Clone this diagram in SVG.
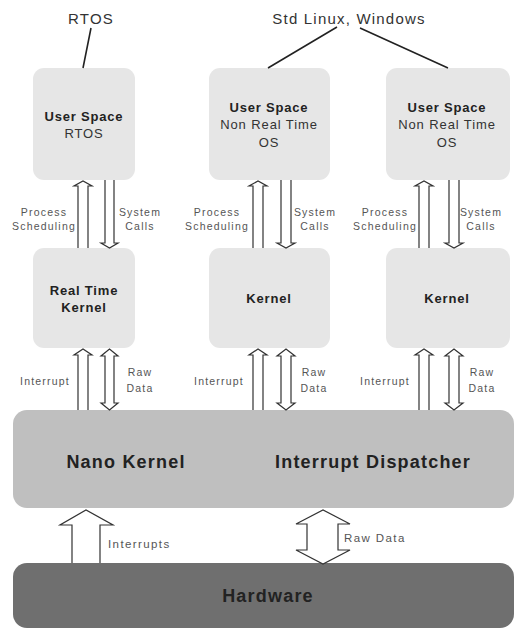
<svg xmlns="http://www.w3.org/2000/svg" width="515" height="630" viewBox="0 0 515 630">
<style>
text{font-family:"Liberation Sans",Arial,sans-serif;text-anchor:middle}
.box{fill:#e6e6e6}
.nano{fill:#bfbfbf}
.hw{fill:#6f6f6f}
.t{font-size:15px;fill:#333;letter-spacing:1.2px}
.b{font-size:13px;font-weight:bold;fill:#222;letter-spacing:0.8px}
.r{font-size:13px;fill:#333;letter-spacing:0.9px}
.s{font-size:10.5px;fill:#555;letter-spacing:1.2px}
.s2{font-size:11.5px;fill:#555;letter-spacing:1.4px;text-anchor:start}
.big{font-size:18px;font-weight:bold;fill:#222;letter-spacing:1.2px}
.arr{fill:#fff;stroke:#333;stroke-width:1.2}
.ln{stroke:#222;stroke-width:1.6;fill:none}
</style>
<g id="label-rtos"><text class="t" x="91" y="24">RTOS</text></g>
<g id="label-std"><text class="t" x="349" y="24">Std Linux, Windows</text></g>

<g id="us-rtos"><rect class="box" x="33" y="68" width="102" height="112" rx="11"/>
<text class="b" x="84" y="121">User Space</text><text class="r" x="84" y="138">RTOS</text></g>
<g id="us-nrt1"><rect class="box" x="209" y="68" width="121" height="112" rx="11"/>
<text class="b" x="269" y="112">User Space</text><text class="r" x="269" y="129">Non Real Time</text><text class="r" x="269" y="147">OS</text></g>
<g id="us-nrt2"><rect class="box" x="386" y="68" width="124" height="112" rx="11"/>
<text class="b" x="447" y="112">User Space</text><text class="r" x="447" y="129">Non Real Time</text><text class="r" x="447" y="147">OS</text></g>

<g id="k-rt"><rect class="box" x="33" y="248" width="102" height="100" rx="11"/>
<text class="b" x="84" y="295">Real Time</text><text class="b" x="84" y="312">Kernel</text></g>
<g id="k-1"><rect class="box" x="209" y="248" width="121" height="100" rx="11"/>
<text class="b" x="269" y="303">Kernel</text></g>
<g id="k-2"><rect class="box" x="386" y="248" width="124" height="100" rx="11"/>
<text class="b" x="447" y="303">Kernel</text></g>

<g id="nano"><rect class="nano" x="13" y="410" width="501" height="98" rx="14"/>
<text class="big" x="126" y="468">Nano Kernel</text><text class="big" x="373" y="468">Interrupt Dispatcher</text></g>
<g id="hardware"><rect class="hw" x="13" y="563" width="501" height="65" rx="14"/>
<text class="big" x="268" y="602">Hardware</text></g>

<g id="connectors">
<path class="ln" d="M91 28 L83 68 M337 27 L268 68 M360 28 L448 68"/>
<!-- RT column -->
<path class="arr" d="M78 248 V186 H74 L83 181 L92 186 H88 V248"/>
<path class="arr" d="M105 180 V243 H101 L109.5 248 L118 243 H114 V180"/>
<path class="arr" d="M78 410 V355 H74 L83 349 L92 355 H88 V410"/>
<path class="arr" d="M105 356 H101 L109.5 349 L118 356 H114 V403 H118 L109.5 410 L101 403 H105 Z"/>
<!-- middle column -->
<path class="arr" d="M253 248 V186 H249 L258 181 L267 186 H263 V248"/>
<path class="arr" d="M281 180 V243 H277 L286 248 L295 243 H291 V180"/>
<path class="arr" d="M253 410 V355 H249 L258 349 L267 355 H263 V410"/>
<path class="arr" d="M281 356 H277 L286 349 L295 356 H291 V403 H295 L286 410 L277 403 H281 Z"/>
<!-- right column -->
<path class="arr" d="M419 248 V186 H415 L424 181 L433 186 H429 V248"/>
<path class="arr" d="M449 180 V243 H445 L454 248 L463 243 H459 V180"/>
<path class="arr" d="M419 410 V355 H415 L424 349 L433 355 H429 V410"/>
<path class="arr" d="M449 356 H445 L454 349 L463 356 H459 V403 H463 L454 410 L445 403 H449 Z"/>
<!-- big arrows -->
<path class="arr" d="M72 563 V525 H60 L86 510 L113 525 H100 V563"/>
<path class="arr" d="M307 524 H296 L323 510 L350 524 H338 V550 H350 L323 564 L296 550 H307 Z"/>

<text class="s" x="44" y="216">Process</text><text class="s" x="44" y="230">Scheduling</text>
<text class="s" x="140" y="216">System</text><text class="s" x="140" y="230">Calls</text>
<text class="s" x="45" y="385">Interrupt</text>
<text class="s" x="140" y="376">Raw</text><text class="s" x="140" y="392">Data</text>

<text class="s" x="217" y="216">Process</text><text class="s" x="217" y="230">Scheduling</text>
<text class="s" x="315" y="216">System</text><text class="s" x="315" y="230">Calls</text>
<text class="s" x="219" y="385">Interrupt</text>
<text class="s" x="314" y="376">Raw</text><text class="s" x="314" y="392">Data</text>

<text class="s" x="385" y="216">Process</text><text class="s" x="385" y="230">Scheduling</text>
<text class="s" x="481" y="216">System</text><text class="s" x="481" y="230">Calls</text>
<text class="s" x="385" y="385">Interrupt</text>
<text class="s" x="482" y="376">Raw</text><text class="s" x="482" y="392">Data</text>

<text class="s2" x="108" y="548">Interrupts</text>
<text class="s2" x="344" y="542">Raw Data</text>
</g>
</svg>
